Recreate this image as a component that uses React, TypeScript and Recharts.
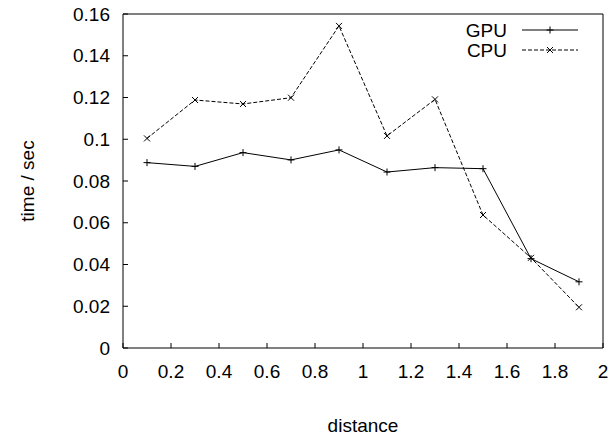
import { LineChart, Line, XAxis, YAxis, Legend } from 'recharts';

const distances = [0.1, 0.3, 0.5, 0.7, 0.9, 1.1, 1.3, 1.5, 1.7, 1.9];
const gpuTimes = [0.0888, 0.087, 0.0936, 0.0901, 0.0949, 0.0843, 0.0864, 0.0859, 0.0428, 0.0317];
const cpuTimes = [0.1004, 0.1188, 0.1169, 0.1199, 0.1543, 0.1016, 0.1191, 0.0637, 0.0432, 0.0195];
const xTicks = [0, 0.2, 0.4, 0.6, 0.8, 1, 1.2, 1.4, 1.6, 1.8, 2];
const yTicks = [0, 0.02, 0.04, 0.06, 0.08, 0.1, 0.12, 0.14, 0.16];

const data = distances.map((d, i) => ({ x: d, gpu: gpuTimes[i], cpu: cpuTimes[i] }));

const FONT = '"Liberation Sans", Arial, Helvetica, sans-serif';
const FS = 19;

const PlusDot = (props: any) => {
  const { cx, cy } = props;
  if (cx == null || cy == null) return null;
  return (
    <path d={`M${cx - 3.5},${cy}H${cx + 3.5}M${cx},${cy - 3.5}V${cy + 3.5}`} stroke="#000" strokeWidth={1} fill="none" />
  );
};

const CrossDot = (props: any) => {
  const { cx, cy } = props;
  if (cx == null || cy == null) return null;
  return (
    <path d={`M${cx - 3},${cy - 3}L${cx + 3},${cy + 3}M${cx - 3},${cy + 3}L${cx + 3},${cy - 3}`} stroke="#000" strokeWidth={1} fill="none" />
  );
};

function KeyBox() {
  return (
    <svg width={150} height={50} style={{ display: 'block', fontFamily: FONT }}>
      <text x={47} y={20} textAnchor="end" dominantBaseline="central" fontSize={FS} fill="#000">GPU</text>
      <line x1={62} x2={118} y1={20} y2={20} stroke="#000" />
      <PlusDot cx={90} cy={20} />
      <text x={47} y={40} textAnchor="end" dominantBaseline="central" fontSize={FS} fill="#000">CPU</text>
      <line x1={62} x2={118} y1={40} y2={40} stroke="#000" strokeDasharray="4 2" />
      <CrossDot cx={90} cy={40} />
    </svg>
  );
}

export default function App() {
  return (
    <div style={{ fontFamily: FONT, margin: -8 }}>
      <LineChart width={616} height={441} data={data} margin={{ top: 13, right: 12, left: 0, bottom: 13 }}>
        <XAxis
          dataKey="x"
          type="number"
          domain={[0, 2]}
          ticks={xTicks}
          interval={0}
          stroke="#000"
          tickSize={-5}
          tickMargin={22}
          height={80}
          tick={{ fill: '#000', fontSize: FS }}
          label={{
            content: (p: any) => (
              <text
                x={p.viewBox.x + p.viewBox.width / 2}
                y={p.viewBox.y + 77}
                textAnchor="middle"
                dominantBaseline="central"
                fontSize={FS}
                fill="#000"
              >
                distance
              </text>
            ),
          }}
        />
        <XAxis
          xAxisId="top"
          orientation="top"
          dataKey="x"
          type="number"
          domain={[0, 2]}
          ticks={xTicks}
          interval={0}
          stroke="#000"
          tickSize={-5}
          height={1}
          tick={false}
        />
        <YAxis
          type="number"
          domain={[0, 0.16]}
          ticks={yTicks}
          interval={0}
          stroke="#000"
          tickSize={-5}
          tickMargin={18}
          width={123}
          tick={{ fill: '#000', fontSize: FS }}
          tickFormatter={(v: number) => String(v)}
          label={{
            content: (p: any) => {
              const cx = 27;
              const cy = p.viewBox.y + p.viewBox.height / 2;
              return (
                <text
                  x={cx}
                  y={cy}
                  transform={`rotate(-90 ${cx} ${cy})`}
                  textAnchor="middle"
                  dominantBaseline="central"
                  fontSize={FS}
                  fill="#000"
                >
                  time / sec
                </text>
              );
            },
          }}
        />
        <YAxis
          yAxisId="right"
          orientation="right"
          type="number"
          domain={[0, 0.16]}
          ticks={yTicks}
          interval={0}
          stroke="#000"
          tickSize={-5}
          width={1}
          tick={false}
        />
        <Legend
          layout="horizontal"
          align="center"
          verticalAlign="middle"
          wrapperStyle={{ position: 'absolute', left: 460, top: 10, width: 150, height: 50 }}
          content={() => <KeyBox />}
        />
        <Line
          type="linear"
          dataKey="gpu"
          name="GPU"
          stroke="#000"
          strokeWidth={1}
          dot={<PlusDot />}
          activeDot={false}
          isAnimationActive={false}
        />
        <Line
          type="linear"
          dataKey="cpu"
          name="CPU"
          stroke="#000"
          strokeWidth={1}
          strokeDasharray="4 2"
          dot={<CrossDot />}
          activeDot={false}
          isAnimationActive={false}
        />
      </LineChart>
    </div>
  );
}
